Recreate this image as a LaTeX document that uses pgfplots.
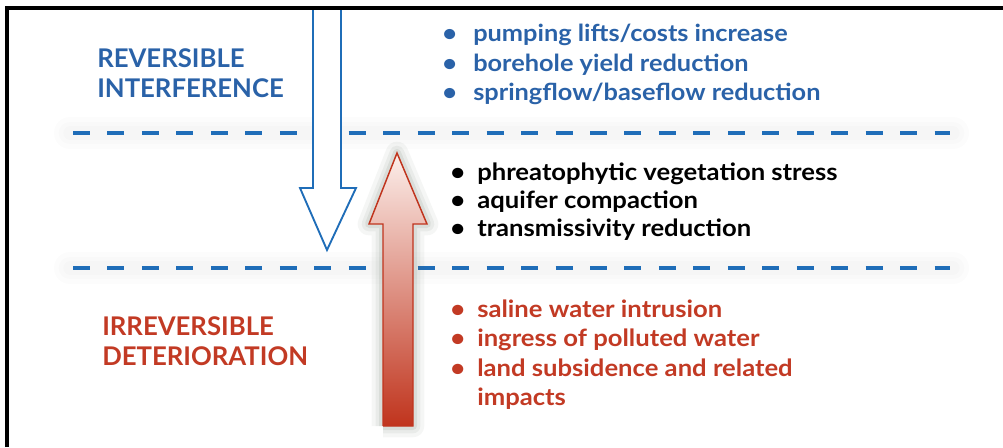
\documentclass[border=0pt]{standalone}
\usepackage{fontspec}
\setmainfont{Lato}
\newfontfamily\listfont{Lato}[FakeStretch=1.08]
\usepackage{pgfplots}
\pgfplotsset{compat=1.18}
\definecolor{hblue}{HTML}{2A62A8}
\definecolor{dblue}{HTML}{1F6DB8}
\definecolor{hred}{HTML}{C23A24}
\definecolor{ared}{HTML}{C0341D}
\definecolor{amid}{HTML}{E3977E}
\definecolor{apink}{HTML}{FCEFEB}
\definecolor{shad}{HTML}{5A6A5A}
\begin{document}
\begin{tikzpicture}
\begin{axis}[hide axis, scale only axis, width=752.25pt, height=335.25pt,
  xmin=0, xmax=1003, ymin=0, ymax=447, y dir=reverse, clip=false]
% soft glow around dashed lines
\addplot[black, opacity=0.012, line width=24pt, line cap=round] coordinates {(70,133) (953,133)};
\addplot[black, opacity=0.012, line width=17pt, line cap=round] coordinates {(70,133) (953,133)};
\addplot[black, opacity=0.012, line width=10pt, line cap=round] coordinates {(70,133) (953,133)};
\addplot[black, opacity=0.012, line width=24pt, line cap=round] coordinates {(70,268) (953,268)};
\addplot[black, opacity=0.012, line width=17pt, line cap=round] coordinates {(70,268) (953,268)};
\addplot[black, opacity=0.012, line width=10pt, line cap=round] coordinates {(70,268) (953,268)};
% dashed separators
\addplot[dblue, line width=3pt, dash pattern=on 12.75pt off 13.1pt] coordinates {(73,133) (950,133)};
\addplot[dblue, line width=3pt, dash pattern=on 12.75pt off 13.1pt] coordinates {(73,268) (950,268)};
% down arrow (blue outline)
\addplot[draw=dblue, line width=1.4pt, fill=white, line join=miter] coordinates {(313,10) (313,188) (300,188) (327,250) (356,188) (341,188) (341,10)};
% shadow halo of the up arrow
\addplot[shad, opacity=0.06, line width=17pt, line join=round] coordinates {(383,426) (383,224) (369,224) (397,153) (427,224) (413,224) (413,426) (383,426)};
\addplot[shad, opacity=0.08, line width=11pt, line join=round] coordinates {(383,426) (383,224) (369,224) (397,153) (427,224) (413,224) (413,426) (383,426)};
\addplot[shad, opacity=0.11, line width=6pt, line join=round] coordinates {(383,426) (383,224) (369,224) (397,153) (427,224) (413,224) (413,426) (383,426)};
% up arrow (red gradient)
\addplot[draw=ared, line width=1.1pt, top color=apink, middle color=amid, bottom color=ared, line join=miter]
  coordinates {(383,426) (383,224) (369,224) (397,153) (427,224) (413,224) (413,426) (383,426)};
% frame
\addplot[black, line width=2.7pt, line join=miter] coordinates {(7,447) (7,8) (1003,8)};
% headings
\node[anchor=base west, inner sep=0pt, text=hblue, font=\bfseries\fontsize{19.3}{22}\selectfont] at (axis cs:97,67) {REVERSIBLE};
\node[anchor=base west, inner sep=0pt, text=hblue, font=\bfseries\fontsize{19.3}{22}\selectfont] at (axis cs:97,97) {INTERFERENCE};
\node[anchor=base west, inner sep=0pt, text=hred, font=\bfseries\fontsize{19.3}{22}\selectfont] at (axis cs:102,335) {IRREVERSIBLE};
\node[anchor=base west, inner sep=0pt, text=hred, font=\bfseries\fontsize{19.3}{22}\selectfont] at (axis cs:102,365) {DETERIORATION};
% blue list
\begin{scope}[every node/.style={anchor=base west, inner sep=0pt, text=hblue, font=\listfont\bfseries\fontsize{17.6}{20}\selectfont}]
\node at (axis cs:442,41) {\makebox[23.25pt][l]{\textbullet}pumping lifts/costs increase};
\node at (axis cs:442,71) {\makebox[23.25pt][l]{\textbullet}borehole yield reduction};
\node at (axis cs:442,100) {\makebox[23.25pt][l]{\textbullet}springflow/baseflow reduction};
\end{scope}
% black list
\begin{scope}[every node/.style={anchor=base west, inner sep=0pt, text=black, font=\listfont\bfseries\fontsize{17.8}{20}\selectfont}]
\node at (axis cs:450,180) {\makebox[20.25pt][l]{\textbullet}phreatophytic vegetation stress};
\node at (axis cs:450,208) {\makebox[20.25pt][l]{\textbullet}aquifer compaction};
\node at (axis cs:450,236) {\makebox[20.25pt][l]{\textbullet}transmissivity reduction};
\end{scope}
% red list
\begin{scope}[every node/.style={anchor=base west, inner sep=0pt, text=hred, font=\listfont\bfseries\fontsize{17.8}{20}\selectfont}]
\node at (axis cs:450,317) {\makebox[20.25pt][l]{\textbullet}saline water intrusion};
\node at (axis cs:450,346) {\makebox[20.25pt][l]{\textbullet}ingress of polluted water};
\node at (axis cs:450,376) {\makebox[20.25pt][l]{\textbullet}land subsidence and related};
\node at (axis cs:477,405) {impacts};
\end{scope}
\end{axis}
\pgfresetboundingbox
\useasboundingbox (0,0) rectangle (752.25pt,335.25pt);
\end{tikzpicture}
\end{document}
